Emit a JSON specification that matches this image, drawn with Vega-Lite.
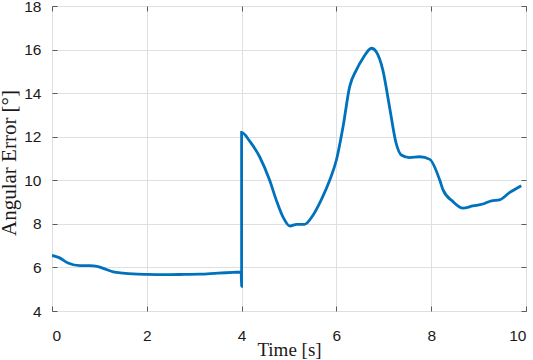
{
  "$schema": "https://vega.github.io/schema/vega-lite/v6.json",
  "width": 474,
  "height": 305,
  "autosize": {"type": "none"},
  "padding": {"left": 52, "top": 6, "right": 7, "bottom": 49},
  "background": "white",
  "config": {
    "view": {"stroke": "#5a5a5a", "strokeWidth": 1},
    "axis": {
      "labelFont": "Liberation Sans",
      "labelFontSize": 15.5,
      "labelColor": "#1a1a1a",
      "titleFont": "Liberation Serif",
      "titleFontWeight": "normal",
      "titleColor": "#1a1a1a",
      "domain": false,
      "tickColor": "#5a5a5a",
      "gridColor": "#dfdfdf",
      "gridWidth": 1
    }
  },
  "data": {
    "values": [
      {"i": 0, "t": 0.0, "err": 6.55},
      {"i": 1, "t": 0.15, "err": 6.45},
      {"i": 2, "t": 0.34, "err": 6.2},
      {"i": 3, "t": 0.59, "err": 6.08},
      {"i": 4, "t": 0.8, "err": 6.08},
      {"i": 5, "t": 0.95, "err": 6.05},
      {"i": 6, "t": 1.08, "err": 5.96},
      {"i": 7, "t": 1.29, "err": 5.8},
      {"i": 8, "t": 1.5, "err": 5.74},
      {"i": 9, "t": 1.71, "err": 5.7},
      {"i": 10, "t": 2.0, "err": 5.68},
      {"i": 11, "t": 2.42, "err": 5.67},
      {"i": 12, "t": 2.8, "err": 5.68},
      {"i": 13, "t": 3.12, "err": 5.69},
      {"i": 14, "t": 3.5, "err": 5.74},
      {"i": 15, "t": 3.82, "err": 5.77},
      {"i": 16, "t": 3.99, "err": 5.79},
      {"i": 17, "t": 4.0, "err": 5.13},
      {"i": 18, "t": 4.0, "err": 12.2},
      {"i": 19, "t": 4.17, "err": 11.8},
      {"i": 20, "t": 4.38, "err": 11.08},
      {"i": 21, "t": 4.59, "err": 10.01},
      {"i": 22, "t": 4.73, "err": 9.1},
      {"i": 23, "t": 4.87, "err": 8.33},
      {"i": 24, "t": 5.02, "err": 7.9},
      {"i": 25, "t": 5.16, "err": 7.98},
      {"i": 26, "t": 5.33, "err": 7.98},
      {"i": 27, "t": 5.51, "err": 8.41},
      {"i": 28, "t": 5.68, "err": 9.1},
      {"i": 29, "t": 5.86, "err": 10.01},
      {"i": 30, "t": 6.0, "err": 10.93},
      {"i": 31, "t": 6.14, "err": 12.46},
      {"i": 32, "t": 6.28, "err": 14.3},
      {"i": 33, "t": 6.42, "err": 15.06},
      {"i": 34, "t": 6.56, "err": 15.6},
      {"i": 35, "t": 6.74, "err": 16.06},
      {"i": 36, "t": 6.84, "err": 15.9},
      {"i": 37, "t": 6.98, "err": 15.06},
      {"i": 38, "t": 7.12, "err": 13.38},
      {"i": 39, "t": 7.26, "err": 11.7},
      {"i": 40, "t": 7.37, "err": 11.16},
      {"i": 41, "t": 7.54, "err": 11.04},
      {"i": 42, "t": 7.76, "err": 11.08},
      {"i": 43, "t": 7.97, "err": 10.96},
      {"i": 44, "t": 8.18, "err": 10.01},
      {"i": 45, "t": 8.25, "err": 9.56},
      {"i": 46, "t": 8.46, "err": 9.02},
      {"i": 47, "t": 8.67, "err": 8.72},
      {"i": 48, "t": 8.88, "err": 8.82},
      {"i": 49, "t": 9.09, "err": 8.91},
      {"i": 50, "t": 9.27, "err": 9.06},
      {"i": 51, "t": 9.44, "err": 9.1},
      {"i": 52, "t": 9.65, "err": 9.43},
      {"i": 53, "t": 9.9, "err": 9.75}
    ]
  },
  "layer": [
    {
      "mark": {"type": "line", "color": "#0072BD", "strokeWidth": 2.8, "interpolate": "monotone", "clip": true},
      "encoding": {
        "x": {"field": "t", "type": "quantitative", "scale": {"domain": [0, 10], "nice": false, "zero": false},
          "axis": {"title": "Time [s]", "titleFontSize": 19, "titleBaseline": "alphabetic", "titleY": 44.5, "values": [0, 2, 4, 6, 8, 10], "tickSize": -5, "labelPadding": 22, "grid": true}},
        "y": {"field": "err", "type": "quantitative", "scale": {"domain": [4, 18], "nice": false, "zero": false},
          "axis": {"title": "Angular Error [°]", "titleFontSize": 21, "titleX": -33, "titleY": 156.5, "values": [4, 6, 8, 10, 12, 14, 16, 18], "tickSize": -5, "labelPadding": 16, "grid": true}},
        "order": {"field": "i", "type": "quantitative"}
      }
    },
    {
      "mark": {"type": "line", "opacity": 0},
      "encoding": {
        "x": {"field": "t", "type": "quantitative", "axis": {"orient": "top", "title": null, "labels": false, "grid": false, "values": [0, 2, 4, 6, 8, 10], "tickSize": -5}},
        "y": {"field": "err", "type": "quantitative", "axis": {"orient": "right", "title": null, "labels": false, "grid": false, "values": [4, 6, 8, 10, 12, 14, 16, 18], "tickSize": -5}},
        "order": {"field": "i", "type": "quantitative"}
      }
    }
  ],
  "resolve": {"axis": {"x": "independent", "y": "independent"}}
}
